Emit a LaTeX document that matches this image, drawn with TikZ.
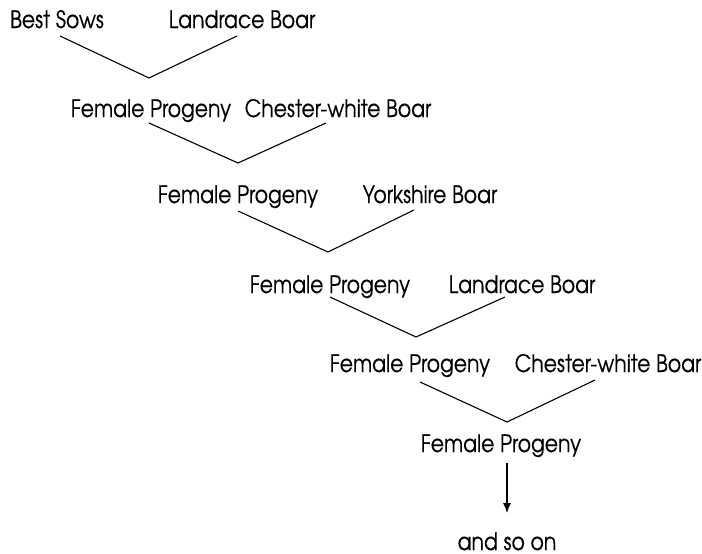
\documentclass[tikz,border=0pt]{standalone}
\usepackage{fontspec}
\setmainfont{texgyreadventor-regular.otf}[FakeStretch=0.85,FakeBold=0.3]
\usetikzlibrary{arrows.meta}
\begin{document}
\begin{tikzpicture}[x=1pt,y=-1pt,
  lbl/.style={anchor=base,inner sep=0pt,font=\fontsize{24}{28}\selectfont},
  link/.style={line width=1.1pt,line join=miter},
  arr/.style={line width=1.1pt,-{Latex[length=10pt,width=8pt]}}]
\useasboundingbox (0,0) rectangle (702,554);
% row 1
\node[lbl] (bs) at (57,28) {Best Sows};
\node[lbl] (lb1) at (242,28) {Landrace Boar};
% row 2
\node[lbl] (fp2) at (151,117) {Female Progeny};
\node[lbl] (cw2) at (338,117) {Chester-white Boar};
% row 3
\node[lbl] (fp3) at (238,203) {Female Progeny};
\node[lbl] (yb3) at (430,203) {Yorkshire Boar};
% row 4
\node[lbl] (fp4) at (330,293) {Female Progeny};
\node[lbl] (lb4) at (522,293) {Landrace Boar};
% row 5
\node[lbl] (fp5) at (410,372) {Female Progeny};
\node[lbl] (cw5) at (608,372) {Chester-white Boar};
% row 6
\node[lbl] (fp6) at (501,452) {Female Progeny};
\node[lbl] (so) at (507,550) {and so on};
% junction points
\coordinate (s1) at (60,36);  \coordinate (j1) at (149,78);  \coordinate (e1) at (237,36);
\coordinate (s2) at (149,123); \coordinate (j2) at (238,163); \coordinate (e2) at (326,123);
\coordinate (s3) at (238,211); \coordinate (j3) at (328,252); \coordinate (e3) at (414,210);
\coordinate (s4) at (330,297); \coordinate (j4) at (416,337); \coordinate (e4) at (505,297);
\coordinate (s5) at (420,382); \coordinate (j5) at (507,422); \coordinate (e5) at (595,380);
\draw[link] (s1) -- (j1) -- (e1);
\draw[link] (s2) -- (j2) -- (e2);
\draw[link] (s3) -- (j3) -- (e3);
\draw[link] (s4) -- (j4) -- (e4);
\draw[link] (s5) -- (j5) -- (e5);
\draw[arr] (so.north |- 0,463) -- (so.north |- 0,513);
\end{tikzpicture}
\end{document}
